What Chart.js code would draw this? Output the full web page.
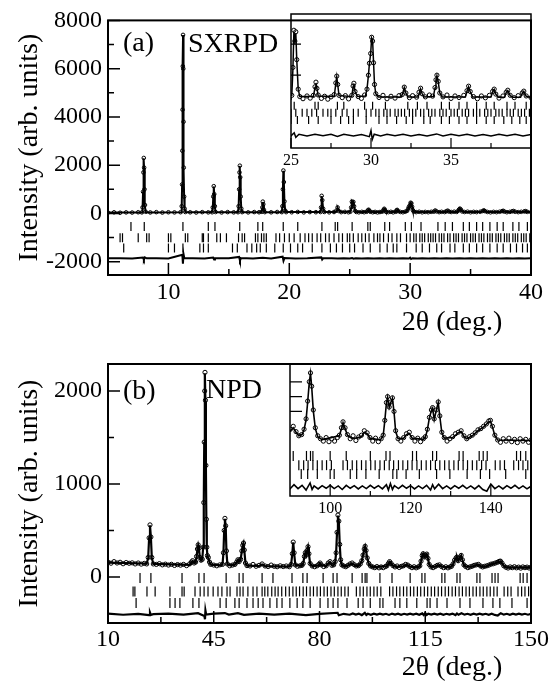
<!DOCTYPE html>
<html>
<head>
<meta charset="utf-8">
<script src="https://cdn.jsdelivr.net/npm/chart.js"></script>
<style>
  body { margin: 0; background: #fff; }
  #wrap { position: relative; width: 556px; height: 687px; }
  canvas { position: absolute; }
</style>
</head>
<body>
<div id="wrap">
  <canvas id="mainA" width="556" height="343" style="left:0;top:0"></canvas>
  <canvas id="insetA" width="276" height="175" style="left:280px;top:0"></canvas>
  <canvas id="mainB" width="556" height="344" style="left:0;top:343px"></canvas>
  <canvas id="insetB" width="276" height="180" style="left:280px;top:343px"></canvas>
</div>
<script>
// ---------- panel (a): SXRPD ----------
const obsA = [
  [5.0,35],[5.5,48],[6.0,30],[6.5,45],[7.0,38],[7.5,50],
  [7.80,45],[7.86,250],[7.90,900],[7.93,1700],[7.96,2300],[7.99,1900],[8.02,1000],[8.06,350],[8.12,70],
  [8.5,42],[9.0,55],[9.5,38],[10.0,50],[10.5,44],[11.0,52],
  [11.10,300],[11.13,1200],[11.15,2600],[11.17,4300],[11.19,6100],[11.21,7400],[11.23,6000],[11.25,3800],[11.27,1900],[11.30,700],[11.34,200],[11.40,60],
  [11.8,48],[12.3,40],[12.8,55],[13.3,46],
  [13.62,50],[13.67,250],[13.71,700],[13.75,1130],[13.79,800],[13.84,300],[13.9,60],
  [14.4,42],[14.9,56],[15.4,47],
  [15.76,52],[15.81,300],[15.85,1000],[15.88,1700],[15.91,1980],[15.94,1500],[15.98,700],[16.03,200],[16.1,55],
  [16.6,45],[17.1,58],[17.5,50],
  [17.72,70],[17.77,250],[17.81,490],[17.85,380],[17.9,150],[17.97,55],
  [18.5,48],[19.0,60],
  [19.38,55],[19.43,300],[19.47,1000],[19.51,1780],[19.55,1300],[19.6,500],[19.66,120],[19.74,55],
  [20.2,50],[20.7,62],[21.2,45],[21.7,58],[22.2,52],
  [22.58,60],[22.63,250],[22.68,730],[22.73,550],[22.8,200],[22.9,62],
  [23.3,48],[23.7,60],[23.9,120],[24.0,250],[24.1,100],[24.3,55],[24.6,65],[24.9,50],
  [25.05,70],[25.12,250],[25.18,490],[25.24,420],[25.30,480],[25.36,300],[25.45,110],[25.55,62],[25.75,48],[26.0,66],[26.2,52],[26.4,70],
  [26.5,125],[26.56,155],[26.62,115],[26.7,72],[26.9,50],[27.1,64],[27.3,45],[27.5,60],[27.7,75],
  [27.8,150],[27.86,194],[27.92,140],[28.0,70],[28.2,55],[28.4,68],[28.6,47],[28.8,70],
  [28.88,130],[28.93,148],[29.0,95],[29.2,62],[29.4,50],[29.6,72],
  [29.75,110],[29.84,200],[29.9,277],[29.98,340],[30.04,445],[30.1,420],[30.16,280],[30.22,140],[30.3,80],
  [30.5,56],[30.75,70],[31.0,48],[31.25,64],[31.5,52],[31.75,68],[31.95,75],
  [32.08,123],[32.18,85],[32.4,55],[32.6,68],[32.85,58],[33.0,90],[33.1,116],[33.2,80],[33.4,60],[33.65,72],[33.85,65],
  [34.0,120],[34.06,170],[34.12,200],[34.2,160],[34.3,85],[34.5,60],[34.75,72],[35.0,50],[35.25,66],[35.5,56],[35.8,70],
  [36.0,100],[36.1,129],[36.2,95],[36.4,62],[36.65,48],[36.9,66],[37.15,54],[37.4,70],
  [37.6,95],[37.7,110],[37.8,78],[38.0,52],[38.25,66],[38.45,90],[38.55,103],[38.7,70],[38.95,55],[39.2,68],[39.45,85],[39.55,97],[39.7,66],[40.0,55]
];
const calcA = [
  [5,40],[7.82,45],[7.86,240],[7.90,880],[7.93,1720],[7.96,2290],[7.99,1880],[8.02,980],[8.06,330],[8.12,60],[8.3,45],
  [11.06,50],[11.10,290],[11.13,1180],[11.15,2620],[11.17,4320],[11.19,6080],[11.21,7390],[11.23,5980],[11.25,3820],[11.27,1880],[11.30,690],[11.34,190],[11.40,60],[11.6,48],
  [13.6,50],[13.67,240],[13.71,690],[13.75,1120],[13.79,810],[13.84,290],[13.9,60],[14.1,50],
  [15.75,52],[15.81,290],[15.85,990],[15.88,1710],[15.91,1970],[15.94,1510],[15.98,690],[16.03,190],[16.1,55],
  [17.7,55],[17.77,240],[17.81,480],[17.85,370],[17.9,150],[17.97,55],
  [19.38,55],[19.43,290],[19.47,990],[19.51,1770],[19.55,1310],[19.6,490],[19.66,120],[19.74,56],
  [22.58,58],[22.63,240],[22.68,720],[22.73,560],[22.8,190],[22.9,60],
  [23.85,58],[23.95,140],[24.0,240],[24.06,180],[24.15,80],[24.3,58],
  [25.05,70],[25.12,240],[25.18,480],[25.24,430],[25.30,470],[25.36,300],[25.45,110],[25.55,62],
  [26.4,62],[26.5,120],[26.56,150],[26.62,115],[26.7,65],
  [27.7,62],[27.8,145],[27.86,190],[27.92,140],[28.0,68],
  [28.8,62],[28.88,125],[28.93,145],[29.0,95],[29.15,62],
  [29.65,65],[29.75,110],[29.84,200],[29.9,275],[29.98,340],[30.04,440],[30.1,425],[30.16,280],[30.22,140],[30.3,80],[30.45,60],
  [31.9,60],[32.0,90],[32.08,120],[32.18,85],[32.3,60],
  [32.95,60],[33.03,90],[33.1,112],[33.2,80],[33.3,60],
  [33.9,62],[34.0,118],[34.06,168],[34.12,196],[34.2,158],[34.3,85],[34.45,60],
  [35.9,60],[36.0,98],[36.1,125],[36.2,95],[36.35,60],
  [37.5,60],[37.6,92],[37.7,108],[37.8,78],[37.95,58],
  [38.35,58],[38.45,88],[38.55,100],[38.7,68],[38.85,58],
  [39.35,58],[39.45,82],[39.55,95],[39.7,64],[40,56]
];
const residA = [
  [5,0],[6,8],[7,-6],[7.9,30],[7.97,-60],[8.05,40],[8.2,0],[9,6],[10,-5],
  [11.15,150],[11.2,-220],[11.25,180],[11.32,0],[12,6],[13,-5],[13.7,30],[13.78,-50],[13.85,0],
  [15,5],[15.85,60],[15.92,-90],[16.0,10],[17,-5],[17.8,20],[18.5,-4],[19.45,70],[19.52,-100],[19.6,10],
  [20.5,-5],[21.5,6],[22.65,40],[22.72,-50],[22.8,0],[23.5,5],[24,-8],[24.5,6],[25,-5],[25.2,15],[25.3,-14],
  [25.5,6],[26,-5],[26.5,6],[27,-4],[27.5,5],[27.9,-8],[28.3,5],[28.9,-6],[29.4,4],[29.9,-10],[30.0,30],
  [30.08,-28],[30.2,6],[30.6,-5],[31,5],[31.5,-4],[32,6],[32.5,-5],[33,4],[33.5,-6],[34.1,8],[34.5,-5],
  [35,5],[35.5,-4],[36,6],[36.5,-5],[37,4],[37.5,-6],[38,5],[38.5,-4],[39,6],[39.5,-5],[40,4]
];
const phase1A = [6.9,8.0,11.2,13.3,13.85,15.9,17.4,17.8,19.5,20.7,22.7,23.8,24.0,25.2,26.5,26.7,27.9,28.3,29.6,
  30.1,30.9,32.3,32.9,33.5,34.4,34.9,35.5,36.0,36.6,37.2,37.7,38.5,39.0,39.7];
const phase2A = [6.0,6.2,7.5,8.2,8.4,10.0,10.2,11.4,11.6,12.8,12.9,13.3,14.0,14.3,14.8,15.8,16.1,16.3,17.2,17.4,
  17.7,17.9,18.1,18.9,19.2,19.6,20.0,20.4,20.9,21.3,21.6,21.9,22.3,22.6,23.0,23.3,23.7,24.1,24.4,24.8,25.0,
  25.3,25.7,26.0,26.3,26.6,27.0,27.3,27.5,27.8,28.2,28.5,28.9,29.2,29.7,30.0,30.3,30.5,30.8,31.0,31.2,31.5,
  31.7,31.9,32.1,32.4,32.6,32.8,33.1,33.3,33.6,33.8,34.0,34.3,34.5,34.7,35.0,35.2,35.4,35.7,35.9,36.1,36.4,
  36.6,36.8,37.1,37.3,37.5,37.8,38.0,38.2,38.5,38.7,38.9,39.2,39.4,39.6,39.9];
const phase3A = [6.3,10.0,10.5,11.2,12.6,12.9,13.3,15.3,15.7,16.5,16.9,17.3,17.6,18.1,18.8,19.5,20.1,20.7,21.1,
  21.9,22.7,23.4,23.9,24.4,25.0,25.4,26.1,26.7,27.5,28.1,28.6,28.9,29.7,30.5,31.0,31.6,32.2,32.6,33.3,33.7,
  34.4,34.9,35.5,36.0,36.6,37.2,37.7,38.3,38.8,39.3,39.7];
const xTicksA = [10, 20, 30, 40];
const xMinorA = [15, 25, 35];
const yTicksA = [-2000, 0, 2000, 4000, 6000, 8000];
const yMinorA = [-1000, 1000, 3000, 5000, 7000];
const rowsA = [-545, -1010, -1435];
const diffAtA = -1860;
const insetXTicksA = [25, 30, 35];
const insetXMinorA = [27.5, 32.5, 37.5];
const insetYTicksA = [200, 400];
const insetRowsA = [2, -43, -89];
const insetDiffAtA = -187;

// ---------- panel (b): NPD ----------
const obsB = [
  [10,160],[11,148],[12,165],[13,150],[14,158],[15,142],[16,155],[17,147],[18,152],[19,140],[20,150],[21,138],[22,146],
  [22.8,140],[23.3,210],[23.6,420],[23.9,560],[24.2,430],[24.5,210],[25,140],
  [26,135],[27,143],[28,130],[29,138],[30,128],[31,136],[32,124],[33,133],[34,127],[35,135],[36,122],[37,140],
  [37.6,160],[38.0,175],[38.5,150],[39.0,160],[39.3,220],[39.6,300],[39.85,345],[40.1,310],[40.4,210],[40.8,180],
  [41.2,190],[41.5,320],[41.7,800],[41.85,1450],[42.0,2000],[42.1,2200],[42.25,1900],[42.4,1200],[42.55,620],
  [42.7,320],[42.9,230],[43.2,210],[43.6,160],[44,135],
  [45,128],[46,120],[47,130],[47.9,135],[48.2,260],[48.45,500],[48.7,630],[48.95,550],[49.2,280],[49.5,140],
  [50.3,120],[51.2,128],[52.0,135],[52.6,160],[53.0,185],[53.4,165],[53.9,190],[54.3,280],[54.6,340],[54.85,365],
  [55.1,290],[55.5,150],[56,122],
  [57,118],[58,135],[59,115],[60,125],[61,140],[62,118],[63,112],[64,128],[65,115],[66,110],[67,120],[68,112],[69,118],[70,110],
  [70.6,135],[71.0,250],[71.3,375],[71.6,260],[72.0,130],[72.7,115],[73.5,120],[74.2,125],
  [74.6,145],[75.0,220],[75.3,260],[75.6,235],[75.9,285],[76.2,325],[76.5,250],[76.9,145],[77.6,118],[78.4,110],
  [79.2,120],[79.8,135],[80.2,150],[80.6,130],[81.4,112],[82.2,120],[82.9,150],[83.5,165],[84.1,125],[84.7,130],
  [85.2,165],[85.5,260],[85.8,480],[86.1,665],[86.4,600],[86.7,350],[87.0,185],[87.4,130],[88.0,118],[88.7,110],
  [89.4,125],[90.1,140],[90.8,150],[91.5,132],[92.2,118],[92.9,122],[93.5,140],[94.0,175],[94.4,235],[94.8,300],
  [95.1,330],[95.4,285],[95.8,205],[96.3,145],[96.9,118],[97.6,108],[98.3,100],[99.0,112],[99.7,98],[100.4,108],
  [101.1,100],[101.8,112],[102.3,120],[102.8,145],[103.2,165],[103.7,145],[104.3,122],[105.0,108],[105.7,118],
  [106.4,102],[107.1,114],[107.8,120],[108.5,135],[109.2,128],[109.9,112],[110.6,100],[111.3,110],[112.0,98],
  [112.7,108],[113.2,120],[113.6,170],[114.0,230],[114.3,250],[114.7,215],[115.1,232],[115.5,246],[115.9,200],
  [116.3,135],[116.9,108],[117.6,100],[118.3,112],[119.0,125],[119.7,130],[120.4,112],[121.1,100],[121.8,110],
  [122.5,98],[123.2,108],[123.7,115],[124.2,140],[124.7,180],[125.2,205],[125.5,213],[125.9,175],[126.4,205],
  [126.9,232],[127.3,185],[127.8,130],[128.4,112],[129.1,100],[129.8,108],[130.5,115],[131.2,125],[131.9,130],
  [132.6,135],[133.3,118],[134.0,108],[134.7,115],[135.4,120],[136.1,128],[136.8,138],[137.5,142],[138.2,150],
  [138.9,158],[139.5,168],[139.9,170],[140.4,150],[141.0,120],[141.7,104],[142.4,96],[143.1,108],[143.8,100],
  [144.5,110],[145.2,98],[145.9,106],[146.6,95],[147.3,108],[148.0,100],[148.7,106],[149.4,96],[150,104]
];
const calcB = [
  [10,155],[22,145],[22.8,142],[23.3,205],[23.6,415],[23.9,555],[24.2,425],[24.5,205],[25,140],[37,130],
  [37.6,155],[38.0,170],[38.5,150],[39.0,155],[39.3,215],[39.6,295],[39.85,340],[40.1,305],[40.4,210],[40.8,178],
  [41.2,188],[41.5,320],[41.7,790],[41.85,1440],[42.0,1990],[42.1,2190],[42.25,1890],[42.4,1190],[42.55,610],
  [42.7,315],[42.9,225],[43.2,205],[43.6,158],[44,132],[47.5,125],[47.9,132],[48.2,255],[48.45,495],[48.7,625],
  [48.95,545],[49.2,275],[49.5,138],[50.5,124],[52.0,132],[52.6,158],[53.0,182],[53.4,165],[53.9,188],[54.3,278],
  [54.6,338],[54.85,362],[55.1,288],[55.5,148],[56,122],[60,118],[61,135],[62,117],[70,112],[70.6,133],[71.0,248],
  [71.3,372],[71.6,258],[72.0,128],[74.2,120],[74.6,143],[75.0,218],[75.3,258],[75.6,233],[75.9,283],[76.2,322],
  [76.5,248],[76.9,143],[77.6,118],[79.8,125],[80.2,145],[80.6,128],[82.2,118],[82.9,145],[83.5,160],[84.1,125],
  [84.7,128],[85.2,162],[85.5,258],[85.8,478],[86.1,660],[86.4,598],[86.7,348],[87.0,182],[87.4,128],[88.7,112],
  [90.1,135],[90.8,145],[91.5,130],[92.2,118],[93.0,122],[93.5,138],[94.0,172],[94.4,232],[94.8,298],[95.1,328],
  [95.4,283],[95.8,203],[96.3,143],[96.9,115],[98,105],[102.3,118],[102.8,142],[103.2,162],[103.7,143],[104.3,120],
  [105.5,108],[107.8,115],[108.5,130],[109.2,125],[109.9,110],[112.5,104],[113.2,118],[113.6,168],[114.0,228],
  [114.3,248],[114.7,213],[115.1,230],[115.5,244],[115.9,198],[116.3,133],[116.9,108],[118.3,110],[119.0,122],
  [119.7,126],[120.4,110],[123.2,106],[123.7,113],[124.2,138],[124.7,178],[125.2,203],[125.5,211],[125.9,173],
  [126.4,203],[126.9,230],[127.3,183],[127.8,128],[128.4,110],[130.5,112],[131.9,128],[132.6,132],[133.3,116],
  [134.0,108],[135.4,118],[136.8,135],[138.2,148],[139.5,165],[139.9,167],[140.4,148],[141.0,118],[141.7,104],[150,102]
];
const residB = [
  [10,5],[15,-6],[20,4],[23.6,-10],[23.9,18],[24.2,-8],[25,0],[30,5],[35,-5],[39.8,10],[41.9,-20],[42.1,-55],
  [42.25,40],[42.5,-5],[45,5],[48.7,12],[50,-4],[53,10],[55,-8],[60,5],[65,-4],[70,6],[75.5,-10],[80,4],[86,15],
  [86.4,-12],[88,4],[90,-6],[91,8],[92,-5],[93,6],[94,-10],[95,14],[95.5,-8],[96,4],[97,-6],[98,5],[99,-4],[100,6],
  [101,-5],[102,4],[103,-8],[104,6],[105,-4],[106,5],[107,-6],[108,4],[109,-5],[110,6],[111,-4],[112,5],[113,-6],
  [114,8],[114.5,-10],[115,12],[115.5,-8],[116,5],[117,-5],[118,6],[119,-4],[120,5],[121,-6],[122,4],[123,-5],
  [124,6],[125,-10],[125.5,8],[126,-6],[127,10],[128,-5],[129,4],[130,-6],[131,5],[132,-4],[133,6],[134,-5],
  [135,4],[136,-6],[137,5],[138,-8],[139,-14],[140,10],[141,-5],[142,4],[143,-6],[144,5],[145,-4],[146,6],
  [147,-5],[148,4],[149,-6],[150,3]
];
const phase1B = [20.6,24.2,34.5,40.1,41.8,49.1,53.4,54.7,61.0,64.6,70.9,74.5,75.9,81.2,84.5,85.8,90.8,94.1,95.1,
  95.7,100.0,104.0,110.0,113.9,114.9,120.5,121.5,125.5,126.5,132.1,133.1,137.1,138.1,139.1,146.4,147.4,148.7];
const phase2B = [18.3,18.9,22.9,25.6,30.5,34.5,35.2,38.8,40.5,41.8,43.1,44.8,46.4,47.7,49.4,50.4,52.7,53.7,54.7,
  56.3,58.0,59.3,61.0,61.9,62.9,64.2,65.3,66.3,67.5,68.8,70.0,71.2,72.3,73.4,74.6,75.7,76.9,78.0,79.2,80.3,81.5,
  82.6,83.8,84.9,86.1,87.2,88.4,89.5,92.2,93.4,94.5,95.7,96.8,98.0,99.1,100.3,103.2,104.3,105.5,106.6,107.8,108.9,
  110.1,111.2,112.4,113.5,114.7,115.8,117.0,118.1,119.3,120.4,121.6,122.7,123.9,125.0,126.2,127.3,128.5,129.6,
  130.8,131.9,133.1,134.2,135.4,136.5,137.7,138.8,141.1,142.3,143.4,145.7,146.9,148.0,149.2];
const phase3B = [19.3,30.5,32.2,33.8,38.1,40.1,47.1,49.1,52.0,53.4,56.0,58.0,59.7,61.3,63.6,65.9,67.6,70.2,72.6,
  74.5,76.9,80.2,82.8,84.5,86.1,89.1,92.8,94.4,96.8,100.0,101.0,105.0,106.6,108.9,112.2,115.6,116.6,118.9,122.2,
  126.5,129.8,134.1,137.4,139.7,143.7,148.7];
const xTicksB = [10, 45, 80, 115, 150];
const xMinorB = [27.5, 62.5, 97.5, 132.5];
const yTicksB = [0, 1000, 2000];
const yMinorB = [500, 1500];
const rowsB = [-10, -155, -280];
const diffAtB = -400;
const insetXTicksB = [100, 120, 140];
const insetXMinorB = [110, 130];
const insetYTicksB = [200, 250, 300];
const insetRowsB = [50, 19, -11];
const insetDiffAtB = -55;

const SERIF = "'Liberation Serif', 'DejaVu Serif', serif";

function pts(list) { return list.map(([x, y]) => ({x, y})); }
function shift(list, dy) { return list.map(([x, y]) => ({x, y: y + dy})); }
function row(list, y) { return list.map(x => ({x, y})); }

// box round the plot area, inward tick marks, and free text
const framePlugin = {
  id: 'frame',
  afterDraw(chart, args, o) {
    const {ctx, chartArea: a} = chart;
    const x = chart.scales.x, y = chart.scales.y;
    ctx.save();
    ctx.strokeStyle = '#000';
    ctx.lineWidth = o.boxWidth;
    ctx.strokeRect(a.left, a.top, a.right - a.left, a.bottom - a.top);
    ctx.lineWidth = o.tickWidth;
    ctx.beginPath();
    [[o.xMajor, o.major], [o.xMinor, o.minor]].forEach(([vals, len]) => {
      (vals || []).forEach(v => {
        const px = x.getPixelForValue(v);
        ctx.moveTo(px, a.bottom); ctx.lineTo(px, a.bottom - len);
      });
    });
    [[o.yMajor, o.major], [o.yMinor, o.minor]].forEach(([vals, len]) => {
      (vals || []).forEach(v => {
        const py = y.getPixelForValue(v);
        ctx.moveTo(a.left, py); ctx.lineTo(a.left + len, py);
      });
    });
    ctx.stroke();
    ctx.fillStyle = '#000';
    ctx.textBaseline = 'middle';
    (o.texts || []).forEach(t => {
      ctx.font = t.size + 'px ' + SERIF;
      ctx.textAlign = t.align || 'left';
      ctx.fillText(t.text, t.x, t.y);
    });
    ctx.restore();
  }
};

function patternSets(obs, calc, resid, diffAt, phases, rows, tickR, circleR, lineW) {
  const sets = [
    { data: pts(calc), showLine: true, borderColor: '#000', borderWidth: lineW, pointRadius: 0 },
    { data: pts(obs), showLine: false, pointRadius: circleR, pointBorderWidth: 1,
      pointBorderColor: '#000', pointBackgroundColor: 'rgba(255,255,255,0)' },
    { data: shift(resid, diffAt), showLine: true, borderColor: '#000', borderWidth: lineW, pointRadius: 0 }
  ];
  phases.forEach((p, i) => sets.push({
    data: row(p, rows[i]), showLine: false, pointStyle: 'line', pointRotation: 90,
    pointRadius: tickR, pointBorderWidth: 1.2, pointBorderColor: '#000'
  }));
  return sets;
}

function mainChart(id, sets, xr, yr, xTicks, yTicks, pad, xHeight, xPad, frame) {
  return new Chart(document.getElementById(id), {
    type: 'scatter',
    data: { datasets: sets },
    options: {
      responsive: false,
      animation: false,
      devicePixelRatio: 1,
      layout: { padding: pad },
      plugins: { legend: { display: false }, tooltip: { enabled: false }, frame: frame },
      scales: {
        x: {
          min: xr[0], max: xr[1],
          grid: { display: false, drawTicks: false }, border: { display: false },
          afterBuildTicks: s => { s.ticks = xTicks.map(v => ({ value: v })); },
          afterFit: s => { s.height = xHeight; },
          ticks: { color: '#000', padding: xPad, maxRotation: 0, autoSkip: false,
                   font: { family: SERIF, size: 24 }, callback: v => String(v) }
        },
        y: {
          min: yr[0], max: yr[1],
          grid: { display: false, drawTicks: false }, border: { display: false },
          afterBuildTicks: s => { s.ticks = yTicks.map(v => ({ value: v })); },
          afterFit: s => { s.width = 108; },
          ticks: { color: '#000', padding: 6, autoSkip: false,
                   font: { family: SERIF, size: 24 }, callback: v => String(v) },
          title: { display: true, text: 'Intensity (arb. units)', color: '#000',
                   font: { family: SERIF, size: 28 }, padding: { top: 13, bottom: 0 } }
        }
      }
    },
    plugins: [framePlugin]
  });
}

function insetChart(id, sets, xr, yr, xTicks, pad, xHeight, frame) {
  return new Chart(document.getElementById(id), {
    type: 'scatter',
    data: { datasets: sets },
    options: {
      responsive: false,
      animation: false,
      devicePixelRatio: 1,
      layout: { padding: pad },
      plugins: { legend: { display: false }, tooltip: { enabled: false }, frame: frame },
      scales: {
        x: {
          min: xr[0], max: xr[1],
          grid: { display: false, drawTicks: false }, border: { display: false },
          afterBuildTicks: s => { s.ticks = xTicks.map(v => ({ value: v })); },
          afterFit: s => { s.height = xHeight; },
          ticks: { color: '#000', padding: 3, maxRotation: 0, autoSkip: false,
                   font: { family: SERIF, size: 16 }, callback: v => String(v) }
        },
        y: { min: yr[0], max: yr[1], display: false }
      }
    },
    plugins: [framePlugin]
  });
}

mainChart('mainA',
  patternSets(obsA, calcA, residA, diffAtA, [phase1A, phase2A, phase3A], rowsA, 4.5, 1.8, 2),
  [5, 40], [-2550, 8000], xTicksA, yTicksA,
  { left: 0, right: 25, top: 14, bottom: 0 }, 68, 3,
  { boxWidth: 2, tickWidth: 1.5, major: 12, minor: 6,
    xMajor: xTicksA, xMinor: xMinorA, yMajor: yTicksA, yMinor: yMinorA,
    texts: [
      { text: '(a)', x: 123, y: 44, size: 28 },
      { text: 'SXRPD', x: 188, y: 45, size: 28 },
      { text: '2θ (deg.)', x: 452, y: 323, size: 28, align: 'center' }
    ] });

insetChart('insetA',
  patternSets(obsA, calcA, residA, insetDiffAtA, [phase1A, phase2A, phase3A], insetRowsA, 4, 2.1, 1.5),
  [25, 40], [-270, 595], insetXTicksA,
  { left: 10, right: 25, top: 14, bottom: 0 }, 27,
  { boxWidth: 1.5, tickWidth: 1.2, major: 10, minor: 5,
    xMajor: insetXTicksA, xMinor: insetXMinorA, yMajor: insetYTicksA });

mainChart('mainB',
  patternSets(obsB, calcB, residB, diffAtB, [phase1B, phase2B, phase3B], rowsB, 5, 2.1, 2.2),
  [10, 150], [-495, 2290], xTicksB, yTicksB,
  { left: 0, right: 25, top: 21, bottom: 0 }, 64, 2,
  { boxWidth: 2, tickWidth: 1.5, major: 12, minor: 6,
    xMajor: xTicksB, xMinor: xMinorB, yMajor: yTicksB, yMinor: yMinorB,
    texts: [
      { text: '(b)', x: 123, y: 49, size: 28 },
      { text: 'NPD', x: 206, y: 48, size: 28 },
      { text: '2θ (deg.)', x: 452, y: 325, size: 28, align: 'center' }
    ] });

insetChart('insetB',
  patternSets(obsB, calcB, residB, insetDiffAtB, [phase1B, phase2B, phase3B], insetRowsB, 5, 2.1, 1.6),
  [90, 150], [-85, 360], insetXTicksB,
  { left: 10, right: 25, top: 21, bottom: 0 }, 27,
  { boxWidth: 1.5, tickWidth: 1.2, major: 12, minor: 5,
    xMajor: insetXTicksB, xMinor: insetXMinorB, yMajor: insetYTicksB });
</script>
</body>
</html>
